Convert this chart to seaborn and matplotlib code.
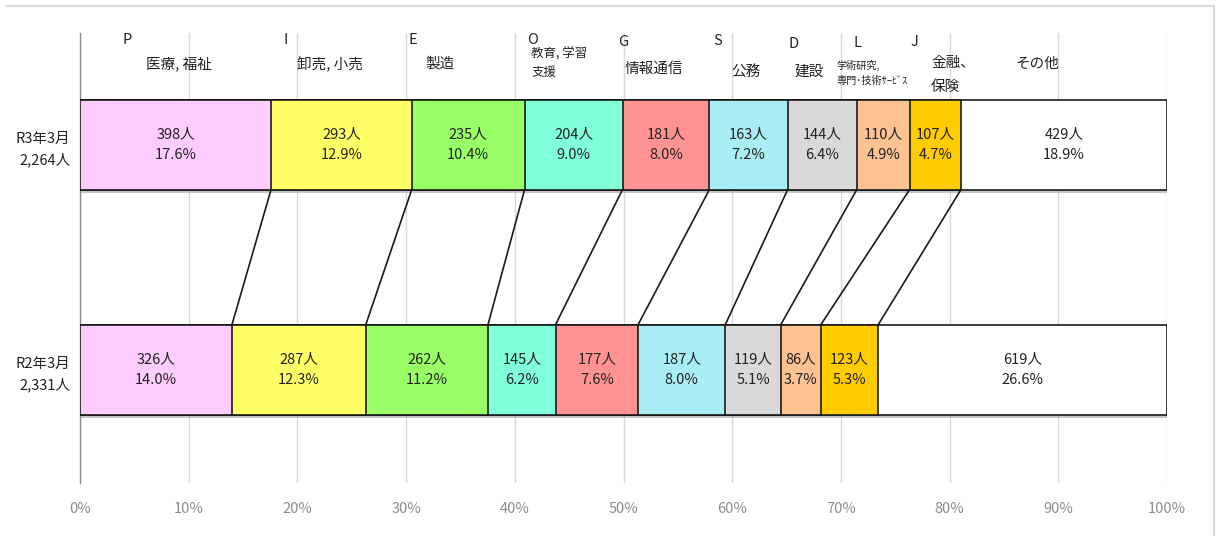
import matplotlib
matplotlib.use("Agg")
import matplotlib.pyplot as plt
from matplotlib import patheffects
from matplotlib.lines import Line2D
import seaborn as sns
import pandas as pd
import numpy as np

# ---------------- data ----------------
periods = ["R3年3月\n2,264人", "R2年3月\n2,331人"]
codes = ["P", "I", "E", "O", "G", "S", "D", "L", "J", ""]
industries = ["医療, 福祉", "卸売, 小売", "製造", "教育, 学習\n支援", "情報通信",
              "公務", "建設", "学術研究,\n専門･技術ｻｰﾋﾞｽ", "金融、\n保険", "その他"]
r3_counts = [398, 293, 235, 204, 181, 163, 144, 110, 107, 429]
r2_counts = [326, 287, 262, 145, 177, 187, 119, 86, 123, 619]
r3_pct = [17.6, 12.9, 10.4, 9.0, 8.0, 7.2, 6.4, 4.9, 4.7, 18.9]
r2_pct = [14.0, 12.3, 11.2, 6.2, 7.6, 8.0, 5.1, 3.7, 5.3, 26.6]
tick_values = [0, 10, 20, 30, 40, 50, 60, 70, 80, 90, 100]

# ---------------- style / layout ----------------
colors = ["#FFCCFF", "#FFFF66", "#99FF66", "#80FFD9", "#FF9393",
          "#AAEEF5", "#D9D9D9", "#FCC291", "#FFCC00", "#FFFFFF"]
W, H = 1219, 536
ROW_GAP = 225.0
ROW0 = 144.5
def py(px):  # pixel row -> data y
    return (px - ROW0) / ROW_GAP

# header layout: (letter x %, letter y px, name x %, name y px, name ha, fontsize)
header_layout = [
    (4.3, 40, 9.1, 64, "center", 10.5),
    (18.9, 40, 23.0, 64, "center", 10.5),
    (30.6, 40, 33.1, 64, "center", 10.5),
    (41.6, 40, 41.5, 63, "left", 9),
    (50.0, 42, 52.8, 69, "center", 10.5),
    (58.7, 41, 61.3, 72, "center", 10.5),
    (65.6, 44, 67.1, 72, "center", 10.5),
    (71.5, 43, 69.6, 73, "left", 7.3),
    (76.8, 42, 78.3, 75, "left", 10.5),
    (None, None, 88.1, 64, "center", 10.5),
]

sns.set_style("white")
plt.rcParams["font.family"] = ["Noto Sans CJK JP", "DejaVu Sans"]

fig = plt.figure(figsize=(W / 100, H / 100), dpi=100)
ax = fig.add_axes([80 / W, 1 - 483 / H, 1087 / W, 450 / H])

r3_share = np.array(r3_counts) / sum(r3_counts) * 100
r2_share = np.array(r2_counts) / sum(r2_counts) * 100
r3_cum = np.cumsum(r3_share)
r2_cum = np.cumsum(r2_share)

bar_h = 90 / ROW_GAP
for i in reversed(range(len(codes))):
    df = pd.DataFrame({"period": periods, "cum": [r3_cum[i], r2_cum[i]]})
    n_before = len(ax.patches)
    sns.barplot(data=df, x="cum", y="period", orient="h", order=periods,
                color=colors[i], saturation=1, edgecolor="#1a1a1a",
                linewidth=1.2, width=bar_h, errorbar=None, ax=ax, zorder=3)
    if i == len(codes) - 1:
        for p in ax.patches[n_before:]:
            p.set_path_effects([patheffects.SimplePatchShadow(offset=(1, -2.5),
                                shadow_rgbFace="#808080", alpha=0.45),
                                patheffects.Normal()])

# value labels
starts3 = np.concatenate([[0], r3_cum[:-1]])
starts2 = np.concatenate([[0], r2_cum[:-1]])
for i in range(len(codes)):
    ax.text((starts3[i] + r3_cum[i]) / 2, 0, f"{r3_counts[i]}人\n{r3_pct[i]:.1f}%",
            ha="center", va="center", fontsize=10.5, linespacing=1.55, color="#222222", zorder=5)
    ax.text((starts2[i] + r2_cum[i]) / 2, 1, f"{r2_counts[i]}人\n{r2_pct[i]:.1f}%",
            ha="center", va="center", fontsize=10.5, linespacing=1.55, color="#222222", zorder=5)

# connector lines between the two bars
for i in range(len(codes) - 1):
    ax.plot([r3_cum[i], r2_cum[i]], [bar_h / 2, 1 - bar_h / 2],
            color="#1a1a1a", lw=1.2, zorder=4)

# header labels
for i, (lx, ly, nx, ny, ha, fs) in enumerate(header_layout):
    if lx is not None and codes[i]:
        ax.text(lx, py(ly), codes[i], ha="center", va="center", fontsize=10.5,
                color="#222222", zorder=5)
    ls = 1.9 if codes[i] == "J" else 1.5
    ax.text(nx, py(ny), industries[i], ha=ha, va="center", fontsize=fs,
            linespacing=ls, color="#222222", zorder=5)

ax.set_xlim(0, 100)
ax.set_ylim(py(483), py(33))
ax.set_xticks(tick_values)
ax.set_xticklabels([f"{v}%" for v in tick_values], color="#8c8c8c", fontsize=10.5)
ax.tick_params(axis="x", length=0, pad=14)
ax.tick_params(axis="y", length=0, pad=7, labelsize=10.5, labelcolor="#222222")
for lab in ax.get_yticklabels():
    lab.set_linespacing(1.6)
ax.set_xlabel("")
ax.set_ylabel("")
ax.grid(axis="x", color="#D9D9D9", lw=1)
ax.grid(axis="y", visible=False)
ax.set_axisbelow(True)
for s in ["top", "right", "bottom"]:
    ax.spines[s].set_visible(False)
ax.spines["left"].set_color("#8c8c8c")
ax.spines["left"].set_linewidth(1)

# outer frame (top and right)
fig.add_artist(Line2D([6 / W, 1214 / W], [1 - 6 / H, 1 - 6 / H], color="#D9D9D9", lw=1.5,
                      transform=fig.transFigure))
fig.add_artist(Line2D([1214 / W, 1214 / W], [0, 1 - 6 / H], color="#D9D9D9", lw=1.5,
                      transform=fig.transFigure))

fig.savefig("out.png", dpi=100)
